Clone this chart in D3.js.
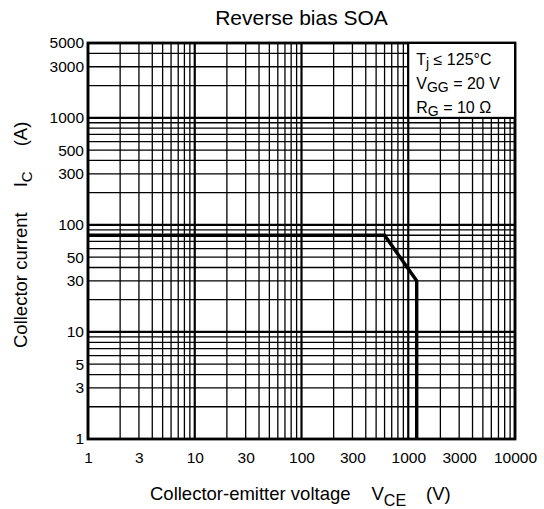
<!DOCTYPE html>
<html>
<head>
<meta charset="utf-8">
<script src="https://cdn.jsdelivr.net/npm/d3@7"></script>
<style>
  html, body { margin: 0; padding: 0; background: #fff; }
  svg { display: block; font-family: "Liberation Sans", Arial, sans-serif; }
</style>
</head>
<body>
<div id="chart"></div>
<script>
// RBSOA boundary
const vce = [1, 600, 1200, 1200];
const ic = [80, 80, 30, 1];

const xTickLabels = [1, 3, 10, 30, 100, 300, 1000, 3000, 10000];
const yTickLabels = [1, 3, 5, 10, 30, 50, 100, 300, 500, 1000, 3000, 5000];

// legend box corners in data units
const legendV = [1000, 10000];
const legendI = [1000, 5000];

var width = 544;
var height = 509;
var marginTop = 43;
var marginRight = 29;
var marginBottom = 70;
var marginLeft = 88;

const svg = d3.create("svg")
    .attr("width", width)
    .attr("height", height);

const x = d3.scaleLog()
    .domain([1, 10000])
    .range([marginLeft, width - marginRight]);

const y = d3.scaleLog()
    .domain([1, 5000])
    .range([height - marginBottom, marginTop]);

// grid lines: 1..9 in every decade
function gridValues(max) {
    let out = [];
    for (let d = 1; d <= max; d *= 10) {
        for (let m = 1; m <= 9; m++) {
            if (d * m <= max) out.push(d * m);
        }
    }
    return out;
}
const isDecade = v => Math.abs(Math.log10(v) - Math.round(Math.log10(v))) < 1e-9;

const grid = svg.append("g");
grid.selectAll("line.gx")
    .data(gridValues(10000))
    .join("line")
    .attr("x1", d => x(d)).attr("x2", d => x(d))
    .attr("y1", y(1)).attr("y2", y(5000))
    .attr("stroke", "#000")
    .attr("stroke-width", d => isDecade(d) ? 2.2 : 1.3);
grid.selectAll("line.gy")
    .data(gridValues(5000))
    .join("line")
    .attr("y1", d => y(d)).attr("y2", d => y(d))
    .attr("x1", x(1)).attr("x2", x(10000))
    .attr("stroke", "#000")
    .attr("stroke-width", d => isDecade(d) ? 2.2 : 1.3);

// curve
const line = d3.line()
    .x((d, i) => x(vce[i]))
    .y((d, i) => y(ic[i]));
svg.append("path")
    .attr("d", line(vce))
    .attr("fill", "none")
    .attr("stroke", "#000")
    .attr("stroke-width", 3.4)
    .attr("stroke-linejoin", "miter");

// frame
svg.append("rect")
    .attr("x", x(1)).attr("y", y(5000))
    .attr("width", x(10000) - x(1))
    .attr("height", y(1) - y(5000))
    .attr("fill", "none")
    .attr("stroke", "#000")
    .attr("stroke-width", 2.8);

// axes (labels only)
svg.append("g")
    .attr("transform", `translate(0,${y(1)})`)
    .call(d3.axisBottom(x).tickValues(xTickLabels).tickFormat(d3.format("d")).tickSize(0).tickPadding(13))
    .call(g => g.select(".domain").remove())
    .call(g => g.selectAll("text").attr("font-size", 15.5).attr("fill", "#000").attr("font-family", null));

svg.append("g")
    .attr("transform", `translate(${x(1)},0)`)
    .call(d3.axisLeft(y).tickValues(yTickLabels).tickFormat(d3.format("d")).tickSize(0).tickPadding(4))
    .call(g => g.select(".domain").remove())
    .call(g => g.selectAll("text").attr("font-size", 15.5).attr("fill", "#000").attr("font-family", null));

// legend
svg.append("rect")
    .attr("x", x(legendV[0])).attr("y", y(legendI[1]))
    .attr("width", x(legendV[1]) - x(legendV[0]))
    .attr("height", y(legendI[0]) - y(legendI[1]))
    .attr("fill", "#fff")
    .attr("stroke", "#000")
    .attr("stroke-width", 2);

const legendLines = [
    ["T", "j", " \u2264 125\u00B0C"],
    ["V", "GG", " = 20 V"],
    ["R", "G", " = 10 \u03A9"]
];
const leg = svg.append("g").attr("font-size", 16);
legendLines.forEach((l, i) => {
    const t = leg.append("text")
        .attr("x", x(legendV[0]) + 8)
        .attr("y", y(legendI[1]) + 22 + i * 24);
    t.append("tspan").text(l[0]);
    t.append("tspan").attr("dy", 3).attr("font-size", 14).text(l[1]);
    t.append("tspan").attr("dy", -3).text(l[2]);
});

// title
svg.append("text")
    .attr("x", (x(1) + x(10000)) / 2)
    .attr("y", 25)
    .attr("text-anchor", "middle")
    .attr("font-size", 21)
    .text("Reverse bias SOA");

// x label
const xl = svg.append("text")
    .attr("x", 150)
    .attr("y", 500)
    .attr("font-size", 18.5);
xl.append("tspan").text("Collector-emitter voltage");
xl.append("tspan").attr("dx", 21).text("V");
xl.append("tspan").attr("dy", 6).attr("font-size", 16).text("CE");
xl.append("tspan").attr("dx", 20).attr("dy", -6).text("(V)");

// y label
const yl = svg.append("text")
    .attr("transform", `translate(27,348) rotate(-90)`)
    .attr("font-size", 18.5);
yl.append("tspan").text("Collector current");
yl.append("tspan").attr("dx", 25).text("I");
yl.append("tspan").attr("dy", 5).attr("font-size", 15).text("C");
yl.append("tspan").attr("dx", 25).attr("dy", -5).text("(A)");

document.getElementById("chart").appendChild(svg.node());
</script>
</body>
</html>
